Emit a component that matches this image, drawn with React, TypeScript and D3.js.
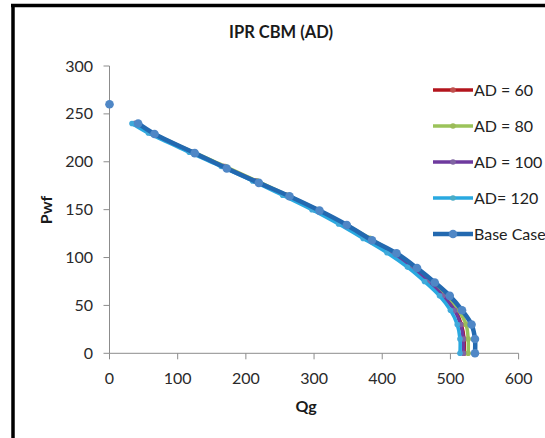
import React from "react";
import * as d3 from "d3";

const pwfLevels = [240, 230, 210, 195, 180, 165, 150, 135, 120, 105, 90, 75, 60, 45, 30, 15, 0];
const basePwf = [240, 229, 209, 193, 178, 164, 149, 134, 118, 104.5, 89, 74, 60, 45, 30, 15, 0];
const baseQg = [42, 66, 125, 172, 219, 264, 308, 348, 385, 421, 451, 477, 499, 517, 531, 536, 536];
const ad60Qg = [37, 61, 121, 168, 214, 259, 302, 342, 378, 413, 443, 468, 490, 507, 516, 520, 520];
const ad80Qg = [39, 63, 123, 170, 216, 261, 305, 345, 382, 417, 447, 473, 495, 512, 523, 526, 526];
const ad100Qg = [36, 60, 120, 167, 213, 258, 301, 341, 377, 412, 442, 467, 489, 506, 515, 519, 519];
const ad120Qg = [33, 57, 117, 164, 210, 254, 297, 336, 372, 407, 437, 462, 484, 500, 510, 514, 514];
const isolatedPoint = { q: 0, p: 260 };

const xTicks = [0, 100, 200, 300, 400, 500, 600];
const yTicks = [0, 50, 100, 150, 200, 250, 300];

const seriesNames = ["AD = 60", "AD = 80", "AD = 100", "AD= 120", "Base Case"];
const seriesColors = ["#B3151D", "#9BC35A", "#6E3A9E", "#29A9E0", "#2369B0"];
const markerColors = ["#C0504D", "#9BBB59", "#8064A2", "#4BACC6", "#4F87C6"];

const FONT = "Lato, 'Open Sans', sans-serif";

export default function App() {
  const W = 545, H = 438;
  const x = d3.scaleLinear().domain([0, 600]).range([109.5, 518.6]);
  const y = d3.scaleLinear().domain([0, 300]).range([353.3, 66]);

  const series = [
    { qg: ad60Qg, pwf: pwfLevels },
    { qg: ad80Qg, pwf: pwfLevels },
    { qg: ad100Qg, pwf: pwfLevels },
    { qg: ad120Qg, pwf: pwfLevels },
    { qg: baseQg, pwf: basePwf },
  ];

  const line = d3
    .line<[number, number]>()
    .x((d) => x(d[0]))
    .y((d) => y(d[1]))
    .curve(d3.curveCatmullRom.alpha(0.5));

  const axisColor = "#8C8C8C";

  return (
    <svg width={W} height={H} style={{ display: "block", position: "absolute", left: 0, top: 0 }}>
      <rect x={0} y={0} width={W} height={H} fill="#ffffff" />
      <line x1={13} y1={4} x2={13} y2={H} stroke="#000" strokeWidth={3.5} />
      <line x1={11} y1={5.5} x2={W} y2={5.5} stroke="#000" strokeWidth={3.5} />

      <text x={281} y={38} textAnchor="middle" fontFamily={FONT} fontWeight="bold" fontSize={16.5} fill="#1a1a1a">
        IPR CBM (AD)
      </text>

      <line x1={x(0)} y1={y(0)} x2={x(600)} y2={y(0)} stroke={axisColor} strokeWidth={1} />
      <line x1={x(0)} y1={y(0)} x2={x(0)} y2={y(300)} stroke={axisColor} strokeWidth={1} />
      {xTicks.map((t) => (
        <g key={"xt" + t}>
          <line x1={x(t)} x2={x(t)} y1={y(0)} y2={y(0) + 6} stroke={axisColor} />
          <text x={x(t)} y={384} textAnchor="middle" fontFamily={FONT} fontSize={16} fill="#2a2a2a">
            {t}
          </text>
        </g>
      ))}
      {yTicks.map((t) => (
        <g key={"yt" + t}>
          <line x1={x(0) - 6} x2={x(0)} y1={y(t)} y2={y(t)} stroke={axisColor} />
          <text x={93} y={y(t) + 5.5} textAnchor="end" fontFamily={FONT} fontSize={16} fill="#2a2a2a">
            {t}
          </text>
        </g>
      ))}

      <text x={306} y={412} textAnchor="middle" fontFamily={FONT} fontWeight="bold" fontSize={16} fill="#1a1a1a">
        Qg
      </text>
      <text
        transform={`translate(52,210) rotate(-90)`}
        textAnchor="middle"
        fontFamily={FONT}
        fontWeight="bold"
        fontSize={16}
        fill="#1a1a1a"
      >
        Pwf
      </text>

      {series.map((s, i) => {
        const pts: [number, number][] = s.qg.map((q, k) => [q, s.pwf[k]]);
        const isBase = i === 4;
        return (
          <g key={"s" + i}>
            <path d={line(pts) || ""} fill="none" stroke={seriesColors[i]} strokeWidth={isBase ? 4.5 : 3.5} />
            {pts.map((p, k) => (
              <circle
                key={k}
                cx={x(p[0])}
                cy={y(p[1])}
                r={isBase ? 4.3 : 2.8}
                fill={i === 3 ? "#3FA9DA" : markerColors[i]}
              />
            ))}
          </g>
        );
      })}
      <circle cx={x(isolatedPoint.q)} cy={y(isolatedPoint.p)} r={4.3} fill={markerColors[4]} />

      {seriesNames.map((n, i) => {
        const cy = 90 + i * 36;
        const isBase = i === 4;
        return (
          <g key={"lg" + i}>
            <line x1={433} x2={473} y1={cy} y2={cy} stroke={seriesColors[i]} strokeWidth={isBase ? 4.5 : 3.5} />
            <circle cx={453} cy={cy} r={isBase ? 4.3 : 2.8} fill={markerColors[i]} />
            <text x={474} y={cy + 6} fontFamily={FONT} fontSize={16} fill="#222">
              {n}
            </text>
          </g>
        );
      })}
    </svg>
  );
}
